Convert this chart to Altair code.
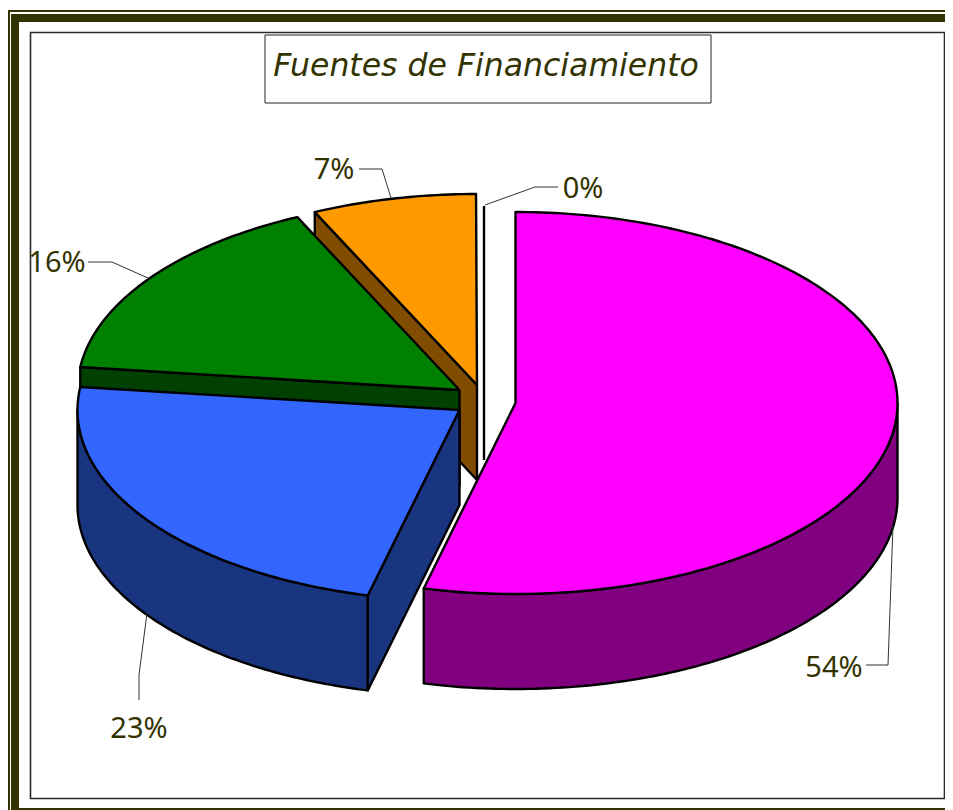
import math
import altair as alt
import pandas as pd

# --- chart values -----------------------------------------------------------
shares = [53.86, 23.06, 16.10, 6.94, 0.04]
labels = ["54%", "23%", "16%", "7%", "0%"]
title_text = "Fuentes de Financiamiento"

top_colors = ["#FF00FF", "#3366FF", "#008000", "#FF9900", "#FFFFFF"]
side_colors = ["#800080", "#1A3580", "#004000", "#804D00", "#FFFFFF"]
OLIVE = "#333300"

# --- layout of the drawing (page pixels) ------------------------------------
W, H = 937, 802
X0, Y0 = 8, 8
RX, RY, DEPTH = 382, 191, 95
centers = [(515.5, 403), (459.5, 410), (459.5, 390), (477, 385), (484, 396)]

xs = alt.Scale(domain=[X0, X0 + W], range=[0, W], nice=False, zero=False)
ys = alt.Scale(domain=[Y0, Y0 + H], range=[0, H], nice=False, zero=False)
X = lambda f="x": alt.X(f"{f}:Q", scale=xs, axis=None)
Y = lambda f="y": alt.Y(f"{f}:Q", scale=ys, axis=None)

# slice boundaries in degrees clockwise from the top
bounds = [0.0]
for s in shares:
    bounds.append(bounds[-1] + s * 3.6)


def pt(c, deg, drop=0):
    r = math.radians(deg)
    return (c[0] + RX * math.sin(r), c[1] - RY * math.cos(r) + drop)


def arc(c, a, b, drop=0):
    n = max(2, int(abs(b - a)) + 1)
    return [pt(c, a + (b - a) * i / n, drop) for i in range(n + 1)]


def face(points, fill, width=2.4):
    pts = list(points) + [points[0]]
    df = pd.DataFrame({"x": [p[0] for p in pts], "y": [p[1] for p in pts], "o": range(len(pts))})
    return alt.Chart(df).mark_line(fill=fill, stroke="black", strokeWidth=width, strokeJoin="round").encode(
        x=X(), y=Y(), order="o:Q"
    )


def poly_line(points, color="#333333", width=1.0):
    df = pd.DataFrame({"x": [p[0] for p in points], "y": [p[1] for p in points], "o": range(len(points))})
    return alt.Chart(df).mark_line(stroke=color, strokeWidth=width).encode(x=X(), y=Y(), order="o:Q")


def box(x1, y1, x2, y2, fill):
    df = pd.DataFrame({"x": [x1], "x2": [x2], "y": [y1], "y2": [y2]})
    return alt.Chart(df).mark_rect(fill=fill).encode(x=X(), x2="x2:Q", y=Y(), y2="y2:Q")


def frame(x1, y1, x2, y2, stroke, width):
    df = pd.DataFrame({"x": [x1], "x2": [x2], "y": [y1], "y2": [y2]})
    return alt.Chart(df).mark_rect(fill="white", stroke=stroke, strokeWidth=width).encode(
        x=X(), x2="x2:Q", y=Y(), y2="y2:Q"
    )


def radial_wall(c, deg):
    p = pt(c, deg)
    return [c, p, (p[0], p[1] + DEPTH), (c[0], c[1] + DEPTH)]


def outer_wall(c, a, b):
    return arc(c, a, b) + arc(c, b, a, DEPTH)


def top(c, a, b):
    return [c] + arc(c, a, b)


layers = [
    # page frame
    box(8, 10, 945, 12, OLIVE),
    box(8, 10, 10, 810, OLIVE),
    box(11, 14, 945, 22, OLIVE),
    box(11, 14, 19, 810, OLIVE),
    box(11, 808, 945, 810, OLIVE),
    frame(30.5, 32.5, 944.5, 798.5, "#2a2a2a", 1.6),
    frame(265, 35, 711, 103, "#222222", 1),
]

# 0% slice: only its edge shows
c4 = centers[4]
layers.append(poly_line([(c4[0], 206), (c4[0], 460)], "black", 2.4))

# orange
c3 = centers[3]
layers.append(face(radial_wall(c3, bounds[3]), side_colors[3]))
layers.append(face(top(c3, bounds[3], bounds[4]), top_colors[3]))

# green
c2 = centers[2]
layers.append(face(radial_wall(c2, bounds[2]), side_colors[2]))
layers.append(face(top(c2, bounds[2], bounds[3]), top_colors[2]))

# blue
c1 = centers[1]
layers.append(face(outer_wall(c1, bounds[1], 270), side_colors[1]))
layers.append(face(radial_wall(c1, bounds[1]), side_colors[1]))
layers.append(face(top(c1, bounds[1], bounds[2]), top_colors[1]))

# magenta
c0 = centers[0]
layers.append(face(outer_wall(c0, 90, bounds[1]), side_colors[0]))
layers.append(face(top(c0, bounds[0], bounds[1]), top_colors[0]))

# leader lines
leaders = [
    [(893, 525), (888, 665), (866, 665)],
    [(147, 613), (139, 675), (139, 700)],
    [(148, 278), (112, 262), (88, 262)],
    [(391, 198), (382, 169), (359, 169)],
    [(485, 205), (535, 187), (558, 187)],
]
for l in leaders:
    layers.append(poly_line(l))

# percentage labels
lab_x = [834, 139, 57, 334, 583]
lab_y = [668, 729, 263, 170, 189]
lab_df = pd.DataFrame({"x": lab_x, "y": lab_y, "t": labels})
layers.append(
    alt.Chart(lab_df)
    .mark_text(font="Noto Sans", fontSize=29, color=OLIVE, align="center", baseline="middle")
    .encode(x=X(), y=Y(), text="t:N")
)

# title
title_df = pd.DataFrame({"x": [486], "y": [67], "t": [title_text]})
layers.append(
    alt.Chart(title_df)
    .mark_text(font="DejaVu Sans", fontStyle="italic", fontSize=31.5, color=OLIVE, align="center", baseline="middle")
    .encode(x=X(), y=Y(), text="t:N")
)

chart = (
    alt.layer(*layers)
    .properties(width=W, height=H, padding=0, autosize=alt.AutoSizeParams(type="none"))
    .configure_view(stroke=None)
)
chart.save("out.html", embed_options={"renderer": "svg", "actions": False})
